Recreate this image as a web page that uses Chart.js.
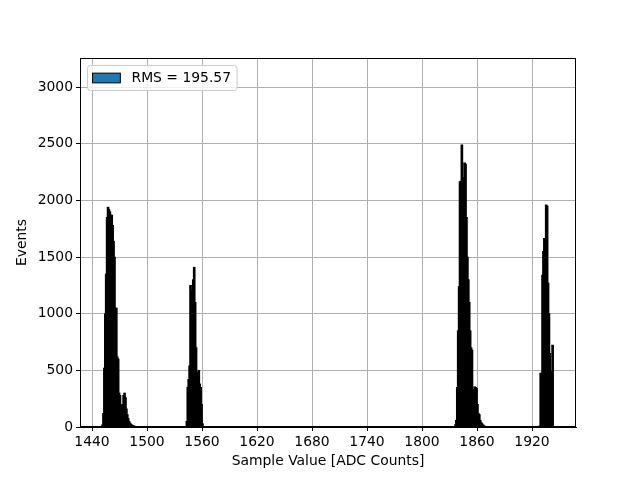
<!DOCTYPE html>
<html>
<head>
<meta charset="utf-8">
<script src="https://cdn.jsdelivr.net/npm/chart.js@4.4.1/dist/chart.umd.min.js"></script>
<style>
  html, body { margin: 0; padding: 0; background: #fff; }
  #grafico { display: block; }
</style>
</head>
<body>
<canvas id="grafico" width="640" height="480"></canvas>
<script>
// Histogram of sample values, 1 ADC count per bin.
// Each cluster: first bin + counts of consecutive bins
const cluster1Start = 1451;
const cluster1Counts = [20, 120, 520, 1000, 1350, 1850, 1940, 1920, 1900, 1870,
  1870, 1780, 1640, 1500, 1050, 1050, 620, 600, 300, 280,
  195, 190, 200, 280, 300, 260, 160, 110, 75, 50,
  35, 25, 18, 12, 10, 8, 6, 4, 3, 2];

const cluster2Start = 1543;
const cluster2Counts = [50, 350, 420, 540, 1250, 1200, 900, 1300, 1410, 1100,
  700, 350, 480, 500, 380, 350, 200, 30];

const cluster3Start = 1835;
const cluster3Counts = [5, 20, 60, 350, 850, 1240, 2165, 2170, 2490, 2200,
  2000, 2330, 2320, 1850, 1500, 1300, 1100, 850, 700, 680,
  300, 330, 355, 350, 340, 200, 120, 110, 60, 40,
  30, 20, 12, 8, 5, 3];

const cluster4Start = 1928;
const cluster4Counts = [10, 475, 475, 1340, 1550, 1665, 1665, 1960, 1950, 1270,
  1000, 650, 490, 490, 723];

const xTicks = [1440, 1500, 1560, 1620, 1680, 1740, 1800, 1860, 1920];
const yTicks = [0, 500, 1000, 1500, 2000, 2500, 3000];
const legendaTexto = 'RMS = 195.57';

// build bar points (bar centred in the middle of its bin)
const clusters = [
  [cluster1Start, cluster1Counts],
  [cluster2Start, cluster2Counts],
  [cluster3Start, cluster3Counts],
  [cluster4Start, cluster4Counts]
];
const pontos = [];
clusters.forEach(([inicio, contagens]) => {
  contagens.forEach((c, i) => pontos.push({ x: inicio + i + 0.5, y: c }));
});

const FS = 13.9;
Chart.defaults.font.family = '"DejaVu Sans", sans-serif';
Chart.defaults.font.size = FS;
Chart.defaults.color = '#000';

// frame on top/right + legend inside the plot, like matplotlib
const moldura = {
  id: 'moldura',
  afterDraw(chart) {
    const { ctx, chartArea: a } = chart;
    ctx.save();
    ctx.strokeStyle = '#000';
    ctx.lineWidth = 1;
    ctx.strokeRect(Math.round(a.left) + 0.5, Math.round(a.top) + 0.5,
      Math.round(a.right - a.left) - 1, Math.round(a.bottom - a.top) - 1);

    const label = chart.data.datasets[0].label;
    ctx.font = FS + 'px "DejaVu Sans"';
    const tw = ctx.measureText(label).width;
    const bx = a.left + 7, by = a.top + 7;
    const pad = 0.4 * FS;
    const hl = 2 * FS, hh = 0.7 * FS;
    const bw = pad + hl + 0.8 * FS + tw + pad;
    const bh = 25;
    ctx.beginPath();
    ctx.roundRect(bx + 0.5, by + 0.5, bw, bh, 3);
    ctx.fillStyle = 'rgba(255,255,255,0.8)';
    ctx.fill();
    ctx.strokeStyle = '#cccccc';
    ctx.stroke();

    const cy = by + bh / 2 + 0.5;
    ctx.fillStyle = '#1f77b4';
    ctx.strokeStyle = '#000';
    ctx.fillRect(bx + pad, cy - hh / 2, hl, hh);
    ctx.strokeRect(bx + pad, cy - hh / 2, hl, hh);

    ctx.fillStyle = '#000';
    ctx.textBaseline = 'middle';
    ctx.fillText(label, bx + pad + hl + 0.8 * FS, cy);
    ctx.restore();
  }
};

const ctx = document.getElementById('grafico').getContext('2d');

const grafico = new Chart(ctx, {
  type: 'bar',
  data: {
    datasets: [{
      label: legendaTexto,
      data: pontos,
      backgroundColor: '#000',
      borderWidth: 0,
      barThickness: 2,
      grouped: false
    }]
  },
  options: {
    responsive: false,
    animation: false,
    layout: { padding: { top: 58, right: 64, bottom: 0, left: 0 } },
    plugins: {
      legend: { display: false },
      tooltip: { enabled: false }
    },
    scales: {
      x: {
        type: 'linear',
        min: 1426.9,
        max: 1968,
        offset: false,
        z: 1,
        afterFit: (s) => { s.height = 53; },
        afterBuildTicks: (s) => { s.ticks = xTicks.map(v => ({ value: v })); },
        grid: { offset: false, color: '#b0b0b0', lineWidth: 1, tickColor: '#000', tickLength: 4, tickWidth: 1 },
        border: { color: '#000', width: 1 },
        ticks: { padding: 3, maxRotation: 0, autoSkip: false, callback: (v) => String(v) },
        title: { display: true, text: 'Sample Value [ADC Counts]', padding: { top: 0, bottom: 10 } }
      },
      y: {
        min: 0,
        max: 3256,
        z: 1,
        afterFit: (s) => { s.width = 80; },
        afterBuildTicks: (s) => { s.ticks = yTicks.map(v => ({ value: v })); },
        grid: { color: '#b0b0b0', lineWidth: 1, tickColor: '#000', tickLength: 4, tickWidth: 1 },
        border: { color: '#000', width: 1 },
        ticks: { padding: 3, callback: (v) => String(v) },
        title: { display: true, text: 'Events', padding: { top: 14, bottom: 0 } }
      }
    }
  },
  plugins: [moldura]
});
</script>
</body>
</html>
